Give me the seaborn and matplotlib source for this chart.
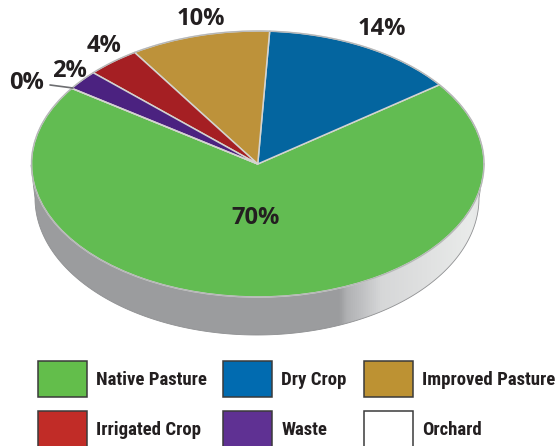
import numpy as np
import matplotlib
matplotlib.use('Agg')
import matplotlib.pyplot as plt
from matplotlib.colors import LinearSegmentedColormap
from matplotlib.patches import Patch, Polygon
import seaborn as sns

categories = ['Native Pasture', 'Dry Crop', 'Improved Pasture', 'Irrigated Crop', 'Waste', 'Orchard']
shares = [69.8, 14.0, 10.0, 3.8, 2.4, 0.0]
share_labels = ['70%', '14%', '10%', '4%', '2%', '0%']
pie_colors = ['#62bc52', '#04659f', '#bd923a', '#a51f23', '#4b2280', '#ffffff']
key_colors = ['#63be4b', '#016bb0', '#bd9233', '#c12c27', '#5f3193', '#ffffff']

sns.set_theme(style='white')
plt.rcParams['font.family'] = ['Open Sans', 'DejaVu Sans']

W, H = 556, 446
fig = plt.figure(figsize=(W / 100, H / 100), dpi=100, facecolor='white')

# pixel overlay, for the wall, leader line and text
bg = fig.add_axes([0, 0, 1, 1])
bg.set_xlim(0, W)
bg.set_ylim(H, 0)
bg.axis('off')

# side wall of the disc, top rim joined to a slightly smaller lower rim
t = np.linspace(0, np.pi, 300)
lower_x = 257 + 222 * np.cos(t)
lower_y = 198 + 137 * np.sin(t)
wall = np.column_stack([
    np.r_[484, lower_x, 31],
    np.r_[165, lower_y, 165],
])
outline = Polygon(wall, closed=True, facecolor='none', edgecolor='#8f9092', lw=0.6, zorder=3)
bg.add_patch(outline)

stops = [(0, '#9b9c9e'), (0.70, '#9c9d9f'), (0.715, '#b0b1b3'), (0.745, '#bfc0c2'),
         (0.785, '#d6d7d8'), (0.87, '#dfe0e0'), (0.97, '#e9ebea'), (1, '#e2e3e3')]
cmap = LinearSegmentedColormap.from_list('wall', stops)
img = bg.imshow(np.linspace(0, 1, 512)[None, :], cmap=cmap, aspect='auto',
                extent=[0, 486, 340, 100], zorder=2)
img.set_clip_path(outline)
bg.set_xlim(0, W)
bg.set_ylim(H, 0)

# top of the disc: a plain pie in an axes squashed to the ellipse
left, right, top, bottom = 31.5, 484.0, 31.0, 297.0
ax = fig.add_axes([left / W, 1 - bottom / H, (right - left) / W, (bottom - top) / H])
ax.patch.set_alpha(0)
wedges, _ = ax.pie(shares, colors=pie_colors, startangle=145.3, counterclock=True, radius=1,
                   wedgeprops={'edgecolor': '#d4d4d0', 'linewidth': 1.1})
ax.set_aspect('auto')
ax.set_xlim(-1, 1)
ax.set_ylim(-1, 1)
rim = np.linspace(0, 2 * np.pi, 400)
ax.plot(np.cos(rim), np.sin(rim), color='#b4b5b7', lw=0.8, clip_on=False)

# text goes in a top overlay
fg = fig.add_axes([0, 0, 1, 1])
fg.set_xlim(0, W)
fg.set_ylim(H, 0)
fg.axis('off')
fg.patch.set_alpha(0)
fg.plot([50, 73], [85, 88], color='#6d6e71', lw=1.2)

label_pos = [(256, 218), (382, 29), (201, 19), (104, 46), (69, 71), (27, 83)]
for txt, (x, y) in zip(share_labels, label_pos):
    fg.text(x, y, txt, ha='center', va='center', fontsize=17, fontweight='bold', color='#231f20')

# legend fills column by column, the list above reads row by row
order = [0, 3, 1, 4, 2, 5]
handles = [Patch(facecolor=key_colors[i], edgecolor='#3a3a3a', lw=1.1) for i in order]
names = [categories[i] for i in order]
fs = 13.5
em = fs * 100 / 72
fg.legend(handles, names, ncol=3, loc='upper left', bbox_to_anchor=(37.5 / W, 1 - 361 / H),
          bbox_transform=fig.transFigure, frameon=False, borderpad=0, borderaxespad=0,
          prop={'family': ['Roboto Condensed', 'Liberation Sans'], 'weight': 'bold', 'size': fs},
          handlelength=49 / em, handleheight=(36 / em - 0.245) / 0.65,
          handletextpad=9 / em, columnspacing=17 / em,
          labelspacing=14 / em, labelcolor='#231f20')

fig.savefig('out.png', dpi=100)
